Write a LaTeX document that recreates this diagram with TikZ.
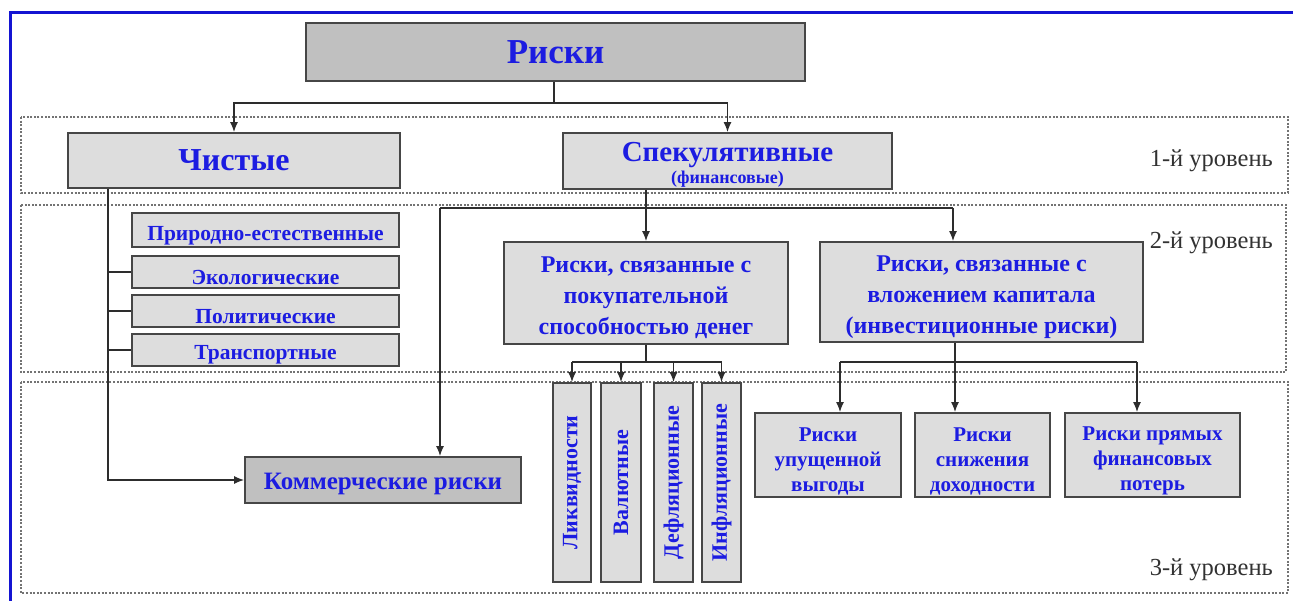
\documentclass[tikz,border=0pt]{standalone}
\usepackage{fontspec}
\setmainfont{Liberation Serif}
\usetikzlibrary{arrows.meta,calc}
\definecolor{txtblue}{RGB}{28,28,225}
\definecolor{boxfill}{RGB}{221,221,221}
\definecolor{boxdark}{RGB}{192,192,192}
\definecolor{edgec}{RGB}{70,70,70}
\definecolor{linec}{RGB}{45,45,45}
\definecolor{frameblue}{RGB}{20,20,210}
\definecolor{lvl}{RGB}{115,115,115}
\definecolor{lbl}{RGB}{50,50,50}
\newcommand\sdown[1]{\rule{0pt}{#1}}
\begin{document}
\begin{tikzpicture}[x=1pt,y=-1pt,
 box/.style={draw=edgec, line width=1.8pt, fill=boxfill, text=txtblue, font=\bfseries, align=center, inner sep=0pt},
 darkbox/.style={box, fill=boxdark},
 conn/.style={draw=linec, line width=1.5pt},
 arr/.style={conn, -{Latex[length=10pt,width=8pt]}},
 level/.style={draw=lvl, line width=1.8pt, dash pattern=on 2pt off 1.6pt},
 lvltext/.style={text=lbl, font=\fontsize{24.5}{27}\selectfont, anchor=east, inner sep=0pt}]
\useasboundingbox (0,0) rectangle (1293,601);
\fill[white] (0,0) rectangle (1293,601);
% blue frame
\draw[frameblue, line width=3pt] (10,601) -- (10,13) -- (1293,13);
% level frames
\draw[level] (21,117) rectangle (1288,193);
\draw[level] (21,205) rectangle (1286,372);
\draw[level] (21,382) rectangle (1288,593);
\node[lvltext] (l1) at (1273,161) {1-й уровень};
\node[lvltext] (l2) at (1273,243) {2-й уровень};
\node[lvltext] (l3) at (1273,570) {3-й уровень};
% nodes
\node[darkbox, minimum width=499, minimum height=58, font=\bfseries\fontsize{35}{40}\selectfont] (risk) at (555.5,52) {Риски};
\node[box, minimum width=332, minimum height=55, font=\bfseries\fontsize{32}{36}\selectfont] (chist) at (234,160.5) {Чистые};
\node[box, minimum width=329, minimum height=56, font=\bfseries\fontsize{29}{30}\selectfont] (spec) at (727.5,161) {\sdown{27pt}Спекулятивные\\[-8pt]{\fontsize{18}{20}\selectfont(финансовые)}};
\node[box, minimum width=267, minimum height=34, font=\bfseries\fontsize{21.5}{24}\selectfont] (nat) at (265.5,230) {\sdown{26.5pt}Природно-естественные};
\node[box, minimum width=267, minimum height=32, font=\bfseries\fontsize{21.5}{24}\selectfont] (eco) at (265.5,272) {\sdown{24.5pt}Экологические};
\node[box, minimum width=267, minimum height=32, font=\bfseries\fontsize{21.5}{24}\selectfont] (pol) at (265.5,311) {\sdown{26pt}Политические};
\node[box, minimum width=267, minimum height=32, font=\bfseries\fontsize{21.5}{24}\selectfont] (tr) at (265.5,350) {\sdown{23pt}Транспортные};
\node[box, minimum width=284, minimum height=102, font=\bfseries\fontsize{24}{31}\selectfont] (purch) at (646,293) {\sdown{26pt}Риски, связанные с\\покупательной\\способностью денег};
\node[box, minimum width=323, minimum height=100, font=\bfseries\fontsize{24}{31}\selectfont] (inv) at (981.5,292) {\sdown{26pt}Риски, связанные с\\вложением капитала\\(инвестиционные риски)};
\node[darkbox, minimum width=276, minimum height=46, font=\bfseries\fontsize{25}{28}\selectfont] (comm) at (383,480) {\sdown{24.5pt}Коммерческие риски};
\node[box, rotate=90, minimum width=199, minimum height=38, font=\bfseries\fontsize{22}{24}\selectfont] (v1) at (572,482.5) {Ликвидности};
\node[box, rotate=90, minimum width=199, minimum height=40, font=\bfseries\fontsize{22}{24}\selectfont] (v2) at (621,482.5) {Валютные};
\node[box, rotate=90, minimum width=199, minimum height=39, font=\bfseries\fontsize{22}{24}\selectfont] (v3) at (673.5,482.5) {Дефляционные};
\node[box, rotate=90, minimum width=199, minimum height=39, font=\bfseries\fontsize{22}{24}\selectfont] (v4) at (721.5,482.5) {Инфляционные};
\node[box, minimum width=146, minimum height=84, font=\bfseries\fontsize{21}{25}\selectfont] (bA) at (828,455) {\sdown{26pt}Риски\\упущенной\\выгоды};
\node[box, minimum width=135, minimum height=84, font=\bfseries\fontsize{21}{25}\selectfont] (bB) at (982.5,455) {\sdown{26pt}Риски\\снижения\\доходности};
\node[box, minimum width=175, minimum height=84, font=\bfseries\fontsize{21}{25}\selectfont] (bC) at (1152.5,455) {\sdown{26pt}Риски прямых\\финансовых\\потерь};
% connectors top
\coordinate (jTop) at (554,103);
\draw[conn] (risk.south -| jTop) -- (jTop);
\draw[arr] (jTop) -| (chist.north);
\draw[arr] (jTop) -| (spec.north);
% pure risks branch
\coordinate (jL) at (108,483);
\draw[arr] (chist.south -| jL) |- (comm.west);
\draw[conn] ($(nat.north west)+(0,3)$ -| jL) -- ($(nat.north west)+(0,3)$);
\draw[conn] (eco.west -| jL) -- (eco.west);
\draw[conn] (pol.west -| jL) -- (pol.west);
\draw[conn] (tr.west -| jL) -- (tr.west);
% speculative branch
\coordinate (jS1) at (440,208);
\coordinate (jS2) at (953,208);
\draw[arr] (spec.south -| purch.north) -- (purch.north);
\draw[conn] (jS1) -- (jS2);
\draw[arr] (jS1) -- (jS1 |- comm.north);
\draw[arr] (jS2) -- (jS2 |- inv.north);
% purchasing power branch
\coordinate (jP) at (646,362);
\draw[conn] (purch.south) -- (jP);
\draw[conn] (v1.east |- jP) -- (v4.east |- jP);
\draw[arr] (v1.east |- jP) -- (v1.east);
\draw[arr] (v2.east |- jP) -- (v2.east);
\draw[arr] (v3.east |- jP) -- (v3.east);
\draw[arr] (v4.east |- jP) -- (v4.east);
% investment branch
\coordinate (jI) at (955,362);
\coordinate (aA) at (840,362);
\coordinate (aC) at (1137,362);
\draw[conn] (jI |- inv.south) -- (jI);
\draw[conn] (aA) -- (aC);
\draw[arr] (aA) -- (aA |- bA.north);
\draw[arr] (jI) -- (jI |- bB.north);
\draw[arr] (aC) -- (aC |- bC.north);
\end{tikzpicture}
\end{document}
